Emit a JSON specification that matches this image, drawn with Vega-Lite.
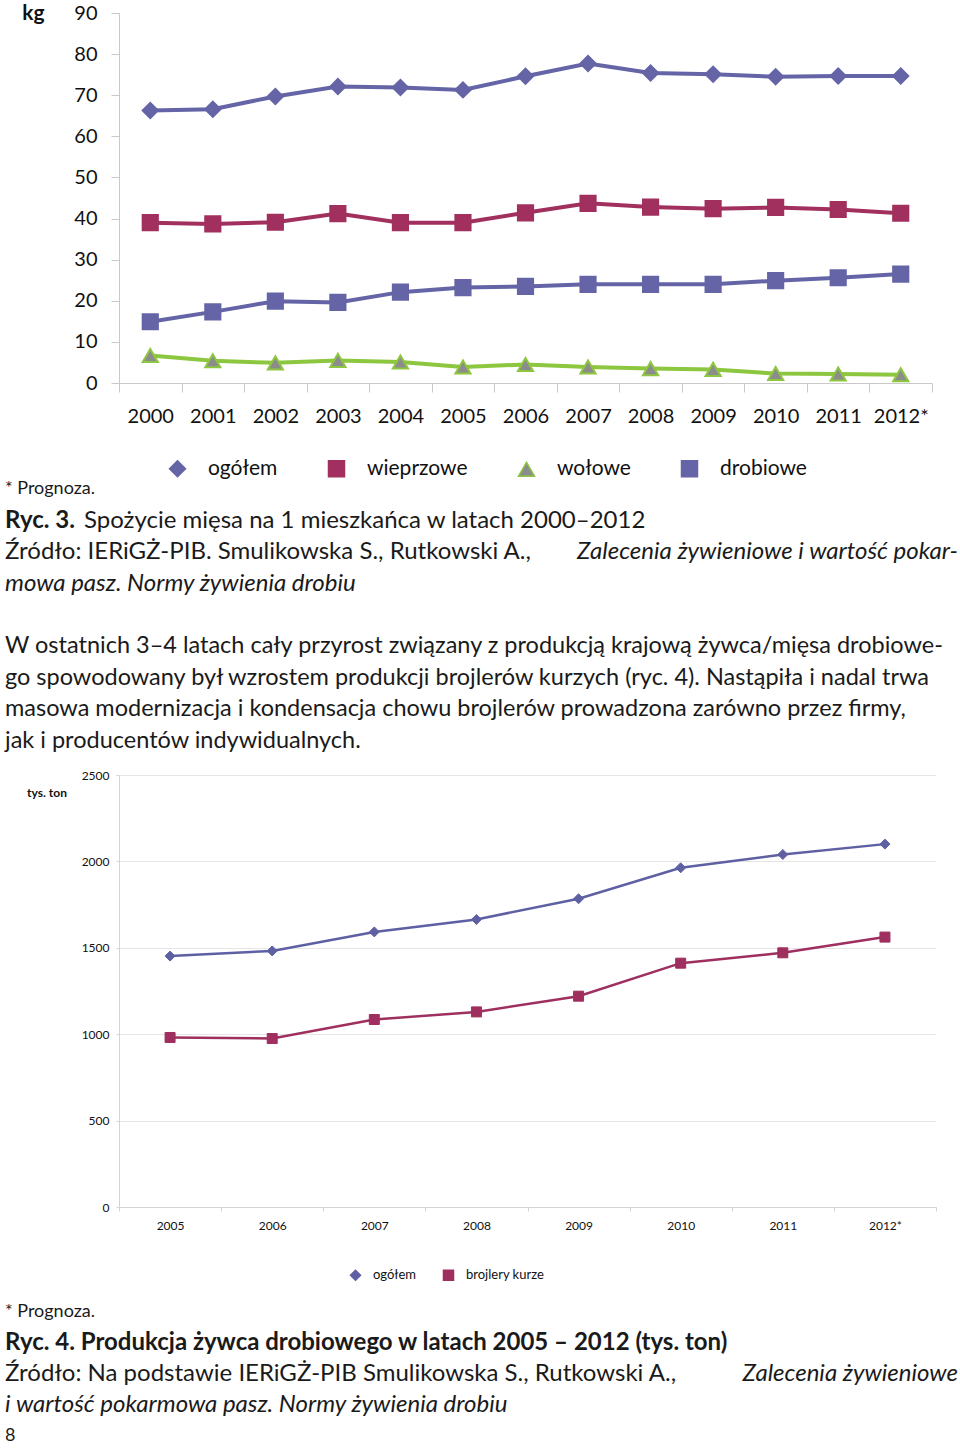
{
 "$schema": "https://vega.github.io/schema/vega-lite/v6.json",
 "background": "white",
 "padding": {"left": 5, "top": 2, "right": 0, "bottom": 0},
 "spacing": 0,
 "resolve": {"scale": {"fill": "independent", "stroke": "independent", "shape": "independent"}, "legend": {"fill": "independent", "stroke": "independent", "shape": "independent"}},
 "config": {"view": {"stroke": null}, "font": "Lato"},
 "vconcat": [
  {
   "width": 813, "height": 370,
   "data": {"values": [
    {"year": "2000", "series": "ogółem", "value": 66.3},
    {"year": "2001", "series": "ogółem", "value": 66.6},
    {"year": "2002", "series": "ogółem", "value": 69.7},
    {"year": "2003", "series": "ogółem", "value": 72.1},
    {"year": "2004", "series": "ogółem", "value": 71.9},
    {"year": "2005", "series": "ogółem", "value": 71.3},
    {"year": "2006", "series": "ogółem", "value": 74.6},
    {"year": "2007", "series": "ogółem", "value": 77.7},
    {"year": "2008", "series": "ogółem", "value": 75.4},
    {"year": "2009", "series": "ogółem", "value": 75.1},
    {"year": "2010", "series": "ogółem", "value": 74.5},
    {"year": "2011", "series": "ogółem", "value": 74.7},
    {"year": "2012*", "series": "ogółem", "value": 74.7},
    {"year": "2000", "series": "wieprzowe", "value": 39.0},
    {"year": "2001", "series": "wieprzowe", "value": 38.7},
    {"year": "2002", "series": "wieprzowe", "value": 39.1},
    {"year": "2003", "series": "wieprzowe", "value": 41.2},
    {"year": "2004", "series": "wieprzowe", "value": 39.0},
    {"year": "2005", "series": "wieprzowe", "value": 39.0},
    {"year": "2006", "series": "wieprzowe", "value": 41.4},
    {"year": "2007", "series": "wieprzowe", "value": 43.7},
    {"year": "2008", "series": "wieprzowe", "value": 42.8},
    {"year": "2009", "series": "wieprzowe", "value": 42.4},
    {"year": "2010", "series": "wieprzowe", "value": 42.7},
    {"year": "2011", "series": "wieprzowe", "value": 42.2},
    {"year": "2012*", "series": "wieprzowe", "value": 41.3},
    {"year": "2000", "series": "wołowe", "value": 6.7},
    {"year": "2001", "series": "wołowe", "value": 5.4},
    {"year": "2002", "series": "wołowe", "value": 4.9},
    {"year": "2003", "series": "wołowe", "value": 5.5},
    {"year": "2004", "series": "wołowe", "value": 5.1},
    {"year": "2005", "series": "wołowe", "value": 3.9},
    {"year": "2006", "series": "wołowe", "value": 4.5},
    {"year": "2007", "series": "wołowe", "value": 3.9},
    {"year": "2008", "series": "wołowe", "value": 3.5},
    {"year": "2009", "series": "wołowe", "value": 3.3},
    {"year": "2010", "series": "wołowe", "value": 2.3},
    {"year": "2011", "series": "wołowe", "value": 2.2},
    {"year": "2012*", "series": "wołowe", "value": 2.0},
    {"year": "2000", "series": "drobiowe", "value": 14.9},
    {"year": "2001", "series": "drobiowe", "value": 17.3},
    {"year": "2002", "series": "drobiowe", "value": 19.9},
    {"year": "2003", "series": "drobiowe", "value": 19.6},
    {"year": "2004", "series": "drobiowe", "value": 22.1},
    {"year": "2005", "series": "drobiowe", "value": 23.2},
    {"year": "2006", "series": "drobiowe", "value": 23.5},
    {"year": "2007", "series": "drobiowe", "value": 24.0},
    {"year": "2008", "series": "drobiowe", "value": 24.0},
    {"year": "2009", "series": "drobiowe", "value": 24.0},
    {"year": "2010", "series": "drobiowe", "value": 24.9},
    {"year": "2011", "series": "drobiowe", "value": 25.6},
    {"year": "2012*", "series": "drobiowe", "value": 26.5}
   ]},
   "encoding": {
    "x": {"field": "year", "type": "nominal", "sort": null, "scale": {"paddingInner": 0, "paddingOuter": 0},
          "axis": {"title": null, "labelAngle": 0, "labelFontSize": 20, "labelColor": "#111111", "labelPadding": 14, "tickSize": 9, "tickBand": "extent", "tickColor": "#C9C9C9", "domainColor": "#C9C9C9", "grid": false}},
    "y": {"field": "value", "type": "quantitative", "scale": {"domain": [0, 90], "nice": false},
          "axis": {"title": "kg", "titleAngle": 0, "titleX": -86, "titleY": 0, "titleAlign": "center", "titleBaseline": "middle", "titleFontSize": 21, "titleFontWeight": "bold", "titleColor": "#111111",
                   "labelFontSize": 20, "labelColor": "#111111", "labelPadding": 14, "tickSize": 8, "values": [0, 10, 20, 30, 40, 50, 60, 70, 80, 90], "grid": false, "tickColor": "#C9C9C9", "domainColor": "#C9C9C9"}}
   },
   "layer": [
    {"transform": [{"filter": "datum.series === 'ogółem'"}], "mark": {"type": "line", "strokeWidth": 4, "color": "#6464A6"}, "encoding": {}},
    {"transform": [{"filter": "datum.series === 'wieprzowe'"}], "mark": {"type": "line", "strokeWidth": 4, "color": "#A1305E"}, "encoding": {}},
    {"transform": [{"filter": "datum.series === 'wołowe'"}], "mark": {"type": "line", "strokeWidth": 4, "color": "#8DC63F"}, "encoding": {}},
    {"transform": [{"filter": "datum.series === 'drobiowe'"}], "mark": {"type": "line", "strokeWidth": 4, "color": "#6464A6"}, "encoding": {}},
    {"mark": {"type": "point", "filled": true, "opacity": 1, "strokeWidth": 2, "size": 230},
     "encoding": {
      "fill": {"field": "series", "type": "nominal", "scale": {"domain": ["ogółem", "wieprzowe", "wołowe", "drobiowe"], "range": ["#6464A6", "#A1305E", "#8C8C8C", "#6464A6"]},
               "legend": {"title": null, "orient": "none", "legendX": 29, "legendY": 445, "direction": "horizontal", "padding": 0, "symbolSize": 256, "symbolOffset": 19, "labelOffset": 20, "columnPadding": 29, "labelFontSize": 21, "labelColor": "#111111",
                          "encode": {"symbols": {
                            "shape": {"value": {"expr": "datum.value === 'ogółem' ? 'M-3.375,0H3.375M0,-0.7L0.8,0L0,0.7L-0.8,0Z' : datum.value === 'wołowe' ? 'M-3.375,0H3.375M0,-0.75L0.75,0.6H-0.75Z' : 'M-3.375,0H3.375M-0.7,-0.7H0.7V0.7H-0.7Z'"}},
                            "strokeWidth": {"value": 3}
                          }}}},
      "stroke": {"field": "series", "type": "nominal", "scale": {"domain": ["ogółem", "wieprzowe", "wołowe", "drobiowe"], "range": ["#6464A6", "#A1305E", "#8DC63F", "#6464A6"]}},
      "shape": {"field": "series", "type": "nominal", "scale": {"domain": ["ogółem", "wieprzowe", "wołowe", "drobiowe"], "range": ["diamond", "square", "triangle-up", "square"]},
               "legend": {"title": null, "orient": "none", "legendX": 29, "legendY": 445, "direction": "horizontal", "padding": 0, "symbolSize": 256, "symbolOffset": 19, "labelOffset": 20, "columnPadding": 29, "labelFontSize": 21, "labelColor": "#111111",
                          "encode": {"symbols": {
                            "shape": {"value": {"expr": "datum.value === 'ogółem' ? 'M-3.375,0H3.375M0,-0.7L0.8,0L0,0.7L-0.8,0Z' : datum.value === 'wołowe' ? 'M-3.375,0H3.375M0,-0.75L0.75,0.6H-0.75Z' : 'M-3.375,0H3.375M-0.7,-0.7H0.7V0.7H-0.7Z'"}},
                            "strokeWidth": {"value": 3}
                          }}}}
     }}
   ]
  },
  {
   "width": 839, "height": 286,
   "data": {"values": [
    {"line": 0, "part": "note", "text": "* Prognoza."},
    {"line": 1, "part": "label", "text": "Ryc. 3."},
    {"line": 1, "part": "caption", "text": "Spożycie mięsa na 1 mieszkańca w latach 2000–2012"},
    {"line": 2, "part": "source", "text": "Źródło: IERiGŻ-PIB. Smulikowska S., Rutkowski A.,"},
    {"line": 2, "part": "titleEnd", "text": "Zalecenia żywieniowe i wartość pokar-"},
    {"line": 3, "part": "title", "text": "mowa pasz. Normy żywienia drobiu"},
    {"line": 5, "part": "body", "text": "W ostatnich 3–4 latach cały przyrost związany z produkcją krajową żywca/mięsa drobiowe-"},
    {"line": 6, "part": "body", "text": "go spowodowany był wzrostem produkcji brojlerów kurzych (ryc. 4). Nastąpiła i nadal trwa"},
    {"line": 7, "part": "body", "text": "masowa modernizacja i kondensacja chowu brojlerów prowadzona zarówno przez firmy,"},
    {"line": 8, "part": "body", "text": "jak i producentów indywidualnych."}
   ]},
   "encoding": {
    "y": {"field": "line", "type": "quantitative", "scale": {"domain": [-0.2, 8.9], "reverse": true, "nice": false, "zero": false}, "axis": null},
    "text": {"field": "text", "type": "nominal"}
   },
   "layer": [
    {"transform": [{"filter": "datum.part === 'note'"}], "mark": {"type": "text", "align": "left", "baseline": "middle", "fontSize": 18, "dx": -114, "color": "#1A1A1A"}, "encoding": {"x": {"value": 0}}},
    {"transform": [{"filter": "datum.part === 'label'"}], "mark": {"type": "text", "align": "left", "baseline": "middle", "fontSize": 24, "fontWeight": "bold", "dx": -114, "color": "#1A1A1A"}, "encoding": {"x": {"value": 0}}},
    {"transform": [{"filter": "datum.part === 'caption'"}], "mark": {"type": "text", "align": "left", "baseline": "middle", "fontSize": 24, "dx": -35, "color": "#1A1A1A"}, "encoding": {"x": {"value": 0}}},
    {"transform": [{"filter": "datum.part === 'source'"}], "mark": {"type": "text", "align": "left", "baseline": "middle", "fontSize": 24, "dx": -114, "color": "#1A1A1A"}, "encoding": {"x": {"value": 0}}},
    {"transform": [{"filter": "datum.part === 'body'"}], "mark": {"type": "text", "align": "left", "baseline": "middle", "fontSize": 23.5, "dx": -114, "color": "#1A1A1A"}, "encoding": {"x": {"value": 0}}},
    {"transform": [{"filter": "datum.part === 'titleEnd'"}], "mark": {"type": "text", "align": "right", "baseline": "middle", "fontSize": 24, "fontStyle": "italic", "color": "#1A1A1A"}, "encoding": {"x": {"value": "width"}}},
    {"transform": [{"filter": "datum.part === 'title'"}], "mark": {"type": "text", "align": "left", "baseline": "middle", "fontSize": 24, "fontStyle": "italic", "dx": -114, "color": "#1A1A1A"}, "encoding": {"x": {"value": 0}}}
   ]
  },
  {
   "width": 817, "height": 432,
   "data": {"values": [
    {"year": "2005", "series": "ogółem", "value": 1452},
    {"year": "2006", "series": "ogółem", "value": 1482},
    {"year": "2007", "series": "ogółem", "value": 1592},
    {"year": "2008", "series": "ogółem", "value": 1664},
    {"year": "2009", "series": "ogółem", "value": 1784},
    {"year": "2010", "series": "ogółem", "value": 1963},
    {"year": "2011", "series": "ogółem", "value": 2040},
    {"year": "2012*", "series": "ogółem", "value": 2100},
    {"year": "2005", "series": "brojlery kurze", "value": 981},
    {"year": "2006", "series": "brojlery kurze", "value": 975},
    {"year": "2007", "series": "brojlery kurze", "value": 1085},
    {"year": "2008", "series": "brojlery kurze", "value": 1129},
    {"year": "2009", "series": "brojlery kurze", "value": 1220},
    {"year": "2010", "series": "brojlery kurze", "value": 1411},
    {"year": "2011", "series": "brojlery kurze", "value": 1471},
    {"year": "2012*", "series": "brojlery kurze", "value": 1562}
   ]},
   "encoding": {
    "x": {"field": "year", "type": "nominal", "sort": null, "scale": {"paddingInner": 0, "paddingOuter": 0},
          "axis": {"title": null, "labelAngle": 0, "labelFontSize": 12, "labelColor": "#111111", "labelPadding": 9, "tickSize": 4, "tickBand": "extent", "tickColor": "#D4D4D4", "domainColor": "#D4D4D4", "grid": false}},
    "y": {"field": "value", "type": "quantitative", "scale": {"domain": [0, 2500], "nice": false},
          "axis": {"title": "tys. ton", "titleAngle": 0, "titleX": -72.5, "titleY": 17, "titleAlign": "center", "titleBaseline": "middle", "titleFontSize": 12, "titleFontWeight": "bold", "titleColor": "#111111", "format": "d",
                   "labelFontSize": 12, "labelColor": "#111111", "labelPadding": 7, "tickSize": 3, "values": [0, 500, 1000, 1500, 2000, 2500], "grid": true, "gridColor": "#E6E6E6", "tickColor": "#D4D4D4", "domainColor": "#D4D4D4"}}
   },
   "layer": [
    {"transform": [{"filter": "datum.series === 'ogółem'"}], "mark": {"type": "line", "strokeWidth": 2.5, "color": "#5F60A3"}, "encoding": {}},
    {"transform": [{"filter": "datum.series === 'brojlery kurze'"}], "mark": {"type": "line", "strokeWidth": 2.5, "color": "#9E2F5E"}, "encoding": {}},
    {"mark": {"type": "point", "filled": true, "opacity": 1, "strokeWidth": 1, "size": 100},
     "encoding": {
      "fill": {"field": "series", "type": "nominal", "scale": {"domain": ["ogółem", "brojlery kurze"], "range": ["#5F60A3", "#9E2F5E"]},
               "legend": {"title": null, "orient": "none", "legendX": 219, "legendY": 493.5, "direction": "horizontal", "padding": 0, "symbolSize": 100, "symbolOffset": 11, "labelOffset": 11, "columnPadding": 15, "labelFontSize": 13, "labelColor": "#111111",
                          "encode": {"symbols": {
                            "shape": {"value": {"expr": "datum.value === 'ogółem' ? 'M-3.2,0H3.2M0,-0.75L0.6,0L0,0.75L-0.6,0Z' : 'M-3.2,0H3.2M-0.85,-0.85H0.85V0.85H-0.85Z'"}},
                            "strokeWidth": {"value": 2.5}
                          }}}},
      "stroke": {"field": "series", "type": "nominal", "scale": {"domain": ["ogółem", "brojlery kurze"], "range": ["#5F60A3", "#9E2F5E"]}},
      "shape": {"field": "series", "type": "nominal", "scale": {"domain": ["ogółem", "brojlery kurze"], "range": ["diamond", "square"]},
               "legend": {"title": null, "orient": "none", "legendX": 219, "legendY": 493.5, "direction": "horizontal", "padding": 0, "symbolSize": 100, "symbolOffset": 11, "labelOffset": 11, "columnPadding": 15, "labelFontSize": 13, "labelColor": "#111111",
                          "encode": {"symbols": {
                            "shape": {"value": {"expr": "datum.value === 'ogółem' ? 'M-3.2,0H3.2M0,-0.75L0.6,0L0,0.75L-0.6,0Z' : 'M-3.2,0H3.2M-0.85,-0.85H0.85V0.85H-0.85Z'"}},
                            "strokeWidth": {"value": 2.5}
                          }}}}
     }}
   ]
  },
  {
   "width": 839, "height": 171,
   "data": {"values": [
    {"line": 0, "part": "note", "text": "* Prognoza."},
    {"line": 1, "part": "label", "text": "Ryc. 4. Produkcja żywca drobiowego w latach 2005 – 2012 (tys. ton)"},
    {"line": 2, "part": "source", "text": "Źródło: Na podstawie IERiGŻ-PIB Smulikowska S., Rutkowski A.,"},
    {"line": 2, "part": "titleEnd", "text": "Zalecenia żywieniowe"},
    {"line": 3, "part": "title", "text": "i wartość pokarmowa pasz. Normy żywienia drobiu"},
    {"line": 4, "part": "page", "text": "8"}
   ]},
   "encoding": {
    "y": {"field": "line", "type": "quantitative", "scale": {"domain": [-0.9, 4.6], "reverse": true, "nice": false, "zero": false}, "axis": null},
    "text": {"field": "text", "type": "nominal"}
   },
   "layer": [
    {"transform": [{"filter": "datum.part === 'note'"}], "mark": {"type": "text", "align": "left", "baseline": "middle", "fontSize": 18, "dx": -114, "color": "#1A1A1A"}, "encoding": {"x": {"value": 0}}},
    {"transform": [{"filter": "datum.part === 'label'"}], "mark": {"type": "text", "align": "left", "baseline": "middle", "fontSize": 24, "fontWeight": "bold", "dx": -114, "color": "#1A1A1A"}, "encoding": {"x": {"value": 0}}},
    {"transform": [{"filter": "datum.part === 'source'"}], "mark": {"type": "text", "align": "left", "baseline": "middle", "fontSize": 24, "dx": -114, "color": "#1A1A1A"}, "encoding": {"x": {"value": 0}}},
    {"transform": [{"filter": "datum.part === 'titleEnd'"}], "mark": {"type": "text", "align": "right", "baseline": "middle", "fontSize": 24, "fontStyle": "italic", "color": "#1A1A1A"}, "encoding": {"x": {"value": "width"}}},
    {"transform": [{"filter": "datum.part === 'title'"}], "mark": {"type": "text", "align": "left", "baseline": "middle", "fontSize": 24, "fontStyle": "italic", "dx": -114, "color": "#1A1A1A"}, "encoding": {"x": {"value": 0}}},
    {"transform": [{"filter": "datum.part === 'page'"}], "mark": {"type": "text", "align": "left", "baseline": "middle", "fontSize": 18, "dx": -114, "color": "#1A1A1A"}, "encoding": {"x": {"value": 0}}}
   ]
  }
 ]
}
